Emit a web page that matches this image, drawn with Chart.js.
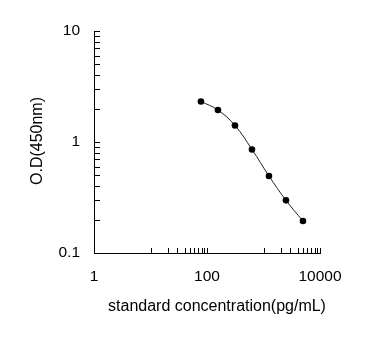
<!DOCTYPE html>
<html>
<head>
<meta charset="utf-8">
<script src="https://cdn.jsdelivr.net/npm/chart.js@4/dist/chart.umd.min.js"></script>
<style>
  html, body { margin: 0; padding: 0; background: #fff; }
  #wrap { width: 381px; height: 352px; }
</style>
</head>
<body>
<div id="wrap"><canvas id="curve-chart" width="381" height="352"></canvas></div>
<script>
// standard curve data
const concentrations = [78.125, 156.25, 312.5, 625, 1250, 2500, 5000];
const odValues = [2.32, 1.94, 1.41, 0.857, 0.494, 0.298, 0.194];

// axis ticks
const xMajorTicks = [1, 100, 10000];
const xMinorTicks = [10, 20, 30, 40, 50, 60, 70, 80, 90, 1000, 2000, 3000, 4000, 5000, 6000, 7000, 8000, 9000];
const yMajorTicks = [0.1, 1, 10];
const yMinorTicks = [0.2, 0.3, 0.4, 0.5, 0.6, 0.7, 0.8, 0.9, 2, 3, 4, 5, 6, 7, 8, 9];

const xTitle = 'standard concentration(pg/mL)';
const yTitle = 'O.D(450nm)';

const fontFamily = "'Liberation Sans', Arial, sans-serif";

function buildTicks(major, minor) {
    return major.concat(minor).sort((a, b) => a - b).map(v => ({ value: v, major: major.includes(v) }));
}

// ticks point into the plot, titles placed like the original
const axisDecor = {
    id: 'axisDecor',
    afterDraw(chart) {
        const ctx = chart.ctx;
        const area = chart.chartArea;
        const xs = chart.scales.x;
        const ys = chart.scales.y;
        ctx.save();
        ctx.strokeStyle = '#000';
        ctx.lineWidth = 1;
        ctx.beginPath();
        xs.ticks.forEach(t => {
            const px = Math.round(xs.getPixelForValue(t.value)) + 0.5;
            ctx.moveTo(px, area.bottom);
            ctx.lineTo(px, area.bottom - 5);
        });
        ys.ticks.forEach(t => {
            const py = Math.round(ys.getPixelForValue(t.value)) + 0.5;
            ctx.moveTo(area.left, py);
            ctx.lineTo(area.left + 6, py);
        });
        ctx.stroke();

        ctx.fillStyle = '#000';
        ctx.font = '16px ' + fontFamily;
        ctx.textAlign = 'center';
        ctx.textBaseline = 'middle';
        ctx.fillText(xTitle, 217, 307);
        ctx.translate(38, 141);
        ctx.rotate(-Math.PI / 2);
        ctx.fillText(yTitle, 0, 0);
        ctx.restore();
    }
};

new Chart(document.getElementById('curve-chart'), {
    type: 'line',
    data: {
        datasets: [{
            data: concentrations.map((c, i) => ({ x: c, y: odValues[i] })),
            borderColor: '#222',
            borderWidth: 1,
            tension: 0.4,
            pointRadius: 3.3,
            pointBorderWidth: 0,
            pointBackgroundColor: '#000',
            fill: false
        }]
    },
    options: {
        responsive: false,
        animation: false,
        events: [],
        layout: {
            padding: { left: 0, top: 31, right: 61, bottom: 0 }
        },
        plugins: {
            legend: { display: false },
            tooltip: { enabled: false }
        },
        scales: {
            x: {
                type: 'logarithmic',
                min: 1,
                max: 10000,
                afterBuildTicks: s => { s.ticks = buildTicks(xMajorTicks, xMinorTicks); },
                afterFit: s => { s.height = 99; },
                grid: { display: false },
                border: { display: true, color: '#000', width: 1 },
                ticks: {
                    autoSkip: false,
                    maxRotation: 0,
                    padding: 6,
                    color: '#000',
                    font: { family: fontFamily, size: 15.5 },
                    callback: v => xMajorTicks.includes(v) ? String(v) : ''
                }
            },
            y: {
                type: 'logarithmic',
                min: 0.1,
                max: 10,
                afterBuildTicks: s => { s.ticks = buildTicks(yMajorTicks, yMinorTicks); },
                afterFit: s => { s.width = 94; },
                grid: { display: false },
                border: { display: true, color: '#000', width: 1 },
                ticks: {
                    autoSkip: false,
                    padding: 6,
                    color: '#000',
                    font: { family: fontFamily, size: 15.5 },
                    callback: v => yMajorTicks.includes(v) ? String(v) : ''
                }
            }
        }
    },
    plugins: [axisDecor]
});
</script>
</body>
</html>
